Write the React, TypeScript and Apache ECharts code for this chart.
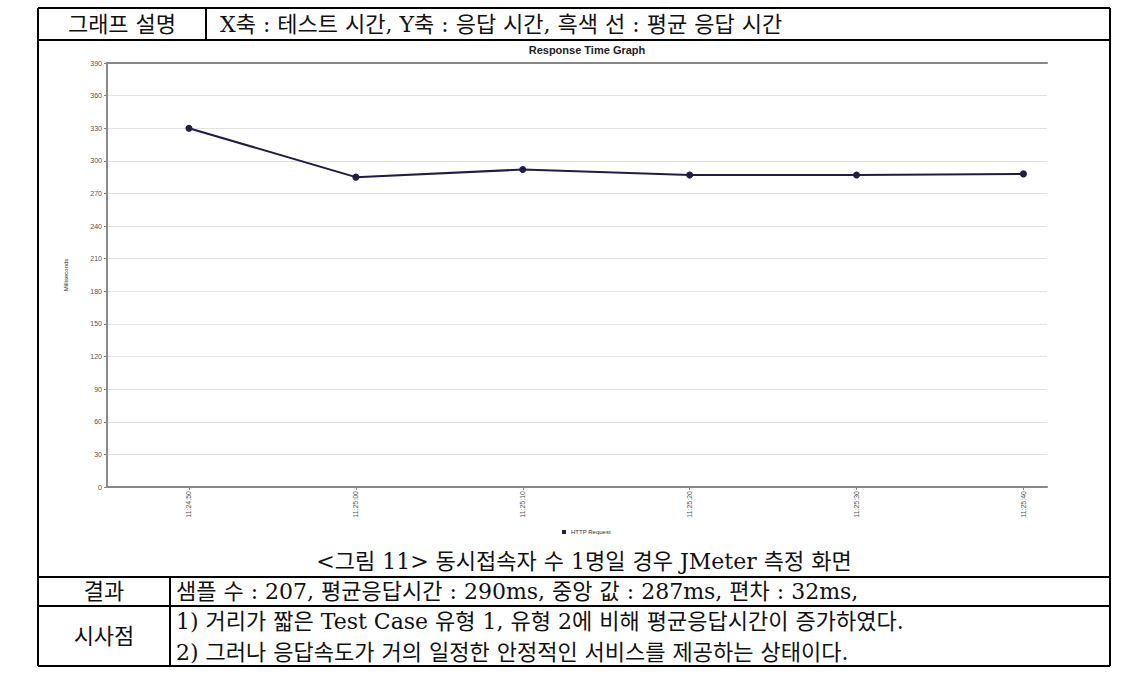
import React, { useEffect, useRef } from "react";
import * as echarts from "echarts";

// ---- data ----
const xLabels = ["11:24:50", "11:25:00", "11:25:10", "11:25:20", "11:25:30", "11:25:40"];
const responseMs = [330, 285, 292, 287, 287, 288];
const seriesName = "HTTP Request";
const chartTitle = "Response Time Graph";
const yAxisName = "Milliseconds";

// ---- table texts ----
const headGraph = "그래프 설명";
const graphDesc = "X축 : 테스트 시간, Y축 : 응답 시간, 흑색 선 : 평균 응답 시간";
const caption = "<그림 11> 동시접속자 수 1명일 경우 JMeter 측정 화면";
const headResult = "결과";
const resultText = "샘플 수 : 207, 평균응답시간 : 290ms, 중앙 값 : 287ms, 편차 : 32ms,";
const headImplication = "시사점";
const implicationLines = [
  "1) 거리가 짧은 Test Case 유형 1, 유형 2에 비해 평균응답시간이 증가하였다.",
  "2) 그러나 응답속도가 거의 일정한 안정적인 서비스를 제공하는 상태이다.",
];

const KFONT = '"DejaVu Serif", "Noto Sans CJK KR", serif';
const CFONT = '"Liberation Sans", Arial, sans-serif';

export default function App() {
  const ref = useRef<HTMLDivElement>(null);
  useEffect(() => {
    document.body.style.margin = "0";
    const chart = echarts.init(ref.current!, null, { renderer: "svg" });
    const L = 38, R = 1110;
    const rows = [8, 40, 577, 606, 666];
    const line = (x1: number, y1: number, x2: number, y2: number, w = 2) => ({
      type: "line",
      shape: { x1, y1, x2, y2 },
      style: { stroke: "#000", lineWidth: w },
      silent: true,
    });
    const text = (t: string, x: number, y: number, align = "left", size = 22) => ({
      type: "text",
      style: {
        text: t,
        x,
        y,
        font: `${size}px ${KFONT}`,
        fill: "#111",
        textAlign: align,
        textVerticalAlign: "middle",
      },
      silent: true,
    });
    const graphic: any[] = [
      ...rows.map((y) => line(L, y, R, y)),
      line(L, rows[0], L, rows[4]),
      line(R, rows[0], R, rows[4]),
      line(206, rows[0], 206, rows[1]),
      line(170, rows[2], 170, rows[4]),
      text(headGraph, 122, 24, "center"),
      text(graphDesc, 220, 24),
      text(caption, 584, 561, "center"),
      text(headResult, 104, 591, "center"),
      text(resultText, 176, 591),
      text(headImplication, 104, 636, "center"),
      text(implicationLines[0], 176, 621),
      text(implicationLines[1], 176, 652),
    ];

    const ticks = xLabels.map((_, i) => i);
    chart.setOption({
      animation: false,
      backgroundColor: "#fff",
      title: {
        text: chartTitle,
        left: 582,
        top: 39,
        textAlign: "center",
        textStyle: { fontFamily: CFONT, fontSize: 11, fontWeight: "bold", color: "#222" },
      },
      legend: {
        data: [seriesName],
        left: 557,
        top: 524,
        icon: "rect",
        itemWidth: 4,
        itemHeight: 4,
        itemGap: 4,
        textStyle: { fontFamily: CFONT, fontSize: 6, color: "#333" },
      },
      grid: { left: 107, right: 93, top: 63, bottom: 193 },
      xAxis: [
        {
          type: "value",
          min: -0.491,
          max: 5.141,
          position: "bottom",
          axisLine: { show: true, onZero: false, lineStyle: { color: "#888", width: 2 } },
          axisTick: { show: true, length: 3, customValues: ticks, lineStyle: { color: "#888" } },
          axisLabel: {
            customValues: ticks,
            rotate: 90,
            margin: 4,
            fontSize: 7,
            fontFamily: CFONT,
            color: "#555",
            formatter: (v: number) => xLabels[Math.round(v)] ?? "",
          },
          splitLine: { show: false },
        },
        {
          type: "value",
          min: -0.491,
          max: 5.141,
          position: "top",
          axisLine: { show: true, onZero: false, lineStyle: { color: "#888", width: 2 } },
          axisTick: { show: false },
          axisLabel: { show: false },
          splitLine: { show: false },
        },
      ],
      yAxis: {
        type: "value",
        min: 0,
        max: 390,
        interval: 30,
        position: "left",
        name: yAxisName,
        nameLocation: "middle",
        nameGap: 38,
        nameTextStyle: { fontFamily: CFONT, fontSize: 6, color: "#333" },
        axisLine: { show: true, onZero: false, lineStyle: { color: "#888", width: 2 } },
        axisTick: { show: true, length: 3, lineStyle: { color: "#888" } },
        axisLabel: { fontSize: 7, fontFamily: CFONT, color: "#555", margin: 5 },
        splitLine: { show: true, lineStyle: { color: "#e2e2e2", width: 1 } },
      },
      series: [
        {
          name: seriesName,
          type: "line",
          xAxisIndex: 0,
          data: responseMs.map((v, i) => [i, v]),
          symbol: "circle",
          symbolSize: 7,
          lineStyle: { color: "#1f1c48", width: 2 },
          itemStyle: { color: "#1f1c48" },
        },
      ],
      graphic,
    });
    return () => chart.dispose();
  }, []);
  return <div ref={ref} style={{ width: 1140, height: 680 }} />;
}
